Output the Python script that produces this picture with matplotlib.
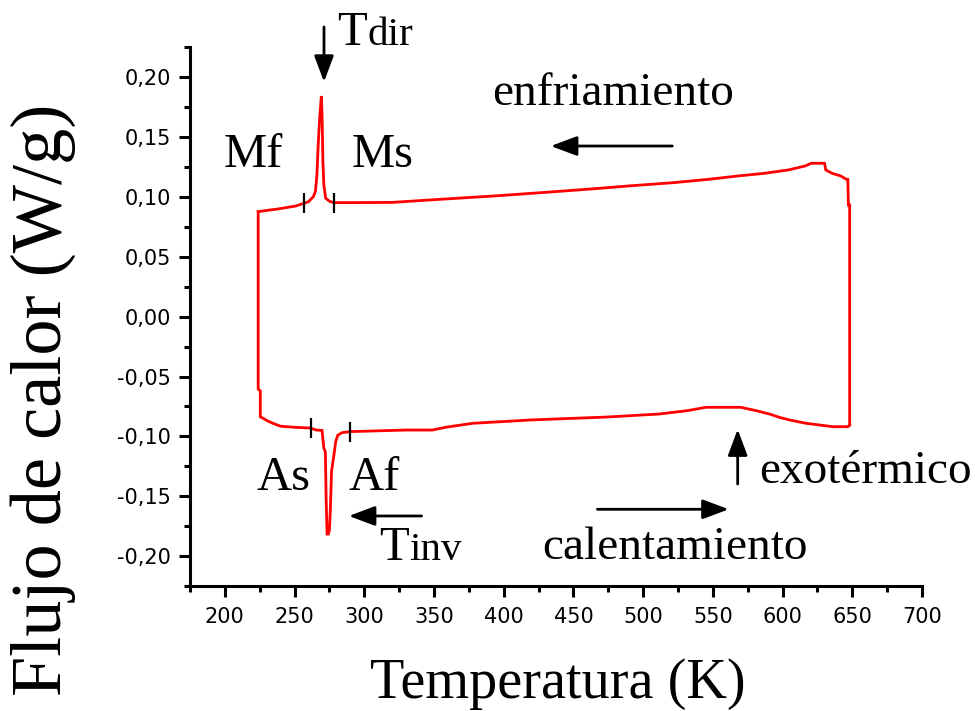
import numpy as np
import matplotlib
matplotlib.use("Agg")
import matplotlib.pyplot as plt
from matplotlib.ticker import MultipleLocator, FuncFormatter

# DSC loop: cooling run (enfriamiento), 648 K -> 224 K, heat flow in W/g
cool_T = [648.1, 648.1, 647.2, 646.8, 645.5, 641.7, 635.5, 631.0, 630.1, 620.6,
          616.1, 604.1, 587.0, 568.2, 547.0, 522.0, 492.5, 462.5, 430.0, 393.5,
          354.8, 320.0, 290.0, 278.0, 275.0, 272.3, 271.0, 270.3, 269.8, 269.2,
          268.0, 267.0, 266.0, 265.0, 263.5, 260.0, 251.0, 238.0, 227.0, 223.9]
cool_q = [-0.0905, 0.0933, 0.0933, 0.1148, 0.1150, 0.1176, 0.1198, 0.1226, 0.1282, 0.1282,
          0.1259, 0.1226, 0.1198, 0.1176, 0.1148, 0.1120, 0.1095, 0.1067, 0.1039, 0.1009,
          0.0981, 0.0955, 0.0953, 0.0953, 0.0965, 0.0990, 0.1100, 0.1300, 0.1650, 0.1844,
          0.1660, 0.1450, 0.1180, 0.1050, 0.1003, 0.0961, 0.0925, 0.0900, 0.0883, 0.0877]

# heating run (calentamiento), 224 K -> 648 K
heat_T = [223.9, 223.9, 225.4, 225.4, 227.5, 230.5, 234.5, 240.0, 250.0, 261.3,
          265.5, 269.7, 271.0, 272.1, 272.6, 273.3, 274.3, 275.0, 275.7, 276.5,
          278.3, 279.5, 281.0, 284.0, 290.1, 330.0, 348.7, 358.3, 377.5, 418.8,
          474.5, 511.5, 531.7, 545.0, 570.0, 581.0, 590.6, 597.8, 605.0, 617.0,
          636.0, 646.8, 648.1]
heat_q = [0.0877, -0.0604, -0.0620, -0.0836, -0.0849, -0.0870, -0.0891, -0.0915, -0.0924, -0.0930,
          -0.0947, -0.0950, -0.1100, -0.1128, -0.1500, -0.1816, -0.1816, -0.1780, -0.1600, -0.1295,
          -0.1150, -0.1044, -0.0990, -0.0969, -0.0960, -0.0947, -0.0947, -0.0924, -0.0891, -0.0863,
          -0.0838, -0.0813, -0.0785, -0.0757, -0.0757, -0.0785, -0.0813, -0.0841, -0.0863, -0.0891,
          -0.0919, -0.0919, -0.0905]

# martensitic transformation temperatures (K)
cool_marks = ["Mf", "Ms"]
cool_marks_T = [256.5, 278.1]
heat_marks = ["As", "Af"]
heat_marks_T = [261.8, 290.1]

x_ticks = list(range(200, 701, 50))
y_ticks = [-0.20, -0.15, -0.10, -0.05, 0.00, 0.05, 0.10, 0.15, 0.20]

serif = "Liberation Serif"

fig = plt.figure(figsize=(9.75, 7.11), dpi=100)
ax = fig.add_axes([190 / 975, 125 / 711, 732 / 975, 538.6 / 711])

ax.plot(cool_T, cool_q, color="red", lw=2.0, solid_joinstyle="miter")
ax.plot(heat_T, heat_q, color="red", lw=2.0, solid_joinstyle="miter")

# short vertical marks at the transformation temperatures
cT = np.array(cool_T[::-1]); cq = np.array(cool_q[::-1])
hT = np.array(heat_T); hq = np.array(heat_q)
ax.plot(cool_marks_T, np.interp(cool_marks_T, cT, cq), ls="none",
        marker="|", ms=14, mew=1.6, color="black")
ax.plot(heat_marks_T, np.interp(heat_marks_T, hT, hq), ls="none",
        marker="|", ms=14, mew=1.6, color="black")

ax.set_xlim(175, 700)
ax.set_ylim(-0.225, 0.225)
ax.set_xticks(x_ticks)
ax.set_yticks(y_ticks)
ax.xaxis.set_minor_locator(MultipleLocator(25))
ax.yaxis.set_minor_locator(MultipleLocator(0.025))


def comma_fmt(v, pos):
    if abs(v) < 1e-9:
        v = 0.0
    return ("%.2f" % v).replace(".", ",")


ax.yaxis.set_major_formatter(FuncFormatter(comma_fmt))

for side in ("top", "right"):
    ax.spines[side].set_visible(False)
for side in ("left", "bottom"):
    ax.spines[side].set_linewidth(2.2)

ax.tick_params(which="major", direction="out", length=8, width=2.2,
               labelsize=15, colors="black")
ax.tick_params(which="minor", direction="out", length=4, width=2.2)
ax.tick_params(axis="x", which="major", pad=7)
ax.tick_params(axis="y", which="major", pad=6)

# annotations
arrow = dict(arrowstyle="-|>,head_length=0.8,head_width=0.3", lw=2.0,
             color="black", mutation_scale=20, shrinkA=0, shrinkB=0)
ax.annotate("", xy=(271.1, 0.1962), xytext=(271.1, 0.2421), arrowprops=arrow,
            annotation_clip=False)
ax.annotate("", xy=(433.8, 0.1426), xytext=(520.9, 0.1426), arrowprops=arrow)
ax.annotate("", xy=(288.9, -0.1665), xytext=(341.1, -0.1665), arrowprops=arrow)
ax.annotate("", xy=(567.8, -0.0941), xytext=(567.8, -0.1398), arrowprops=arrow)
ax.annotate("", xy=(561.4, -0.1609), xytext=(467.2, -0.1609), arrowprops=arrow)

big = 35
word = 34
ax.text(280.2, 0.2270, "T", family=serif, fontsize=big, va="baseline", ha="left")
ax.text(302.0, 0.2270, "dir", family=serif, fontsize=29.5, va="baseline", ha="left")
ax.text(310.4, -0.2033, "T", family=serif, fontsize=big, va="baseline", ha="left")
ax.text(332.0, -0.2033, "inv", family=serif, fontsize=29.5, va="baseline", ha="left")

ax.text(199.1, 0.1253, cool_marks[0], family=serif, fontsize=big, va="baseline", ha="left")
ax.text(291.0, 0.1253, cool_marks[1], family=serif, fontsize=big, va="baseline", ha="left")
ax.text(223.0, -0.1448, heat_marks[0], family=serif, fontsize=big, va="baseline", ha="left")
ax.text(288.9, -0.1448, heat_marks[1], family=serif, fontsize=big, va="baseline", ha="left")

ax.text(391.6, 0.1769, "enfriamiento", family=serif, fontsize=word, va="baseline", ha="left")
ax.text(427.8, -0.2027, "calentamiento", family=serif, fontsize=word, va="baseline", ha="left")
ax.text(583.4, -0.1392, "exotérmico", family=serif, fontsize=word, va="baseline", ha="left")

fig.text(557.5 / 975, 1 - 697.5 / 711, "Temperatura (K)", family=serif,
         fontsize=40.5, ha="center", va="baseline")
fig.text(60.5 / 975, 1 - 400 / 711, "Flujo de calor (W/g)", family=serif,
         fontsize=52, rotation=90, rotation_mode="anchor", ha="center", va="baseline")

fig.savefig("out.png", dpi=100)
